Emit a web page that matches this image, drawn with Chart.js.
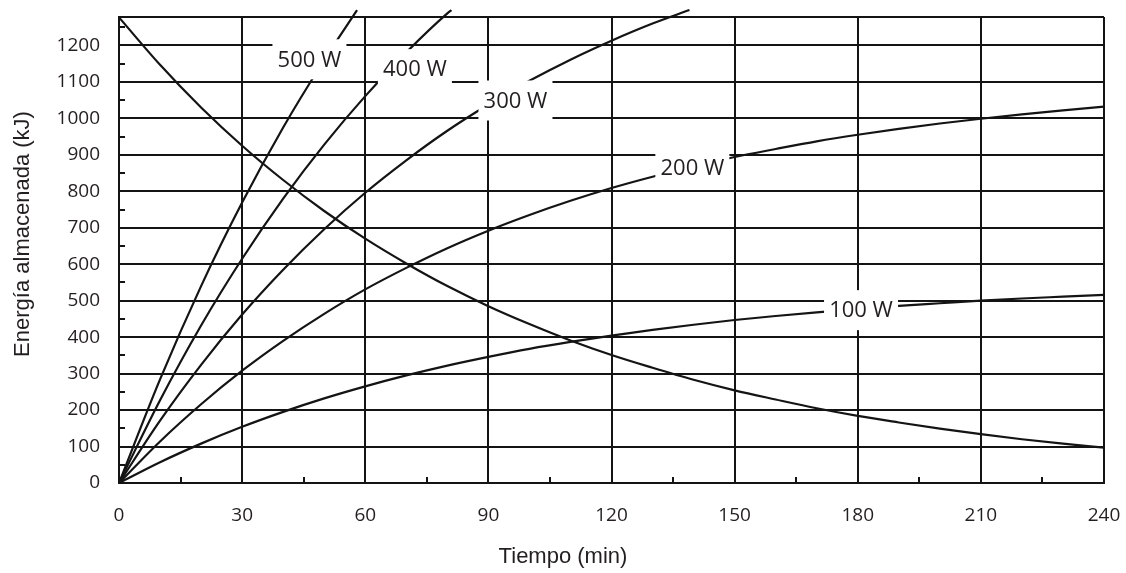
<!DOCTYPE html>
<html>
<head>
<meta charset="utf-8">
<script src="https://cdn.jsdelivr.net/npm/chart.js@4/dist/chart.umd.min.js"></script>
<style>
  html, body { margin: 0; padding: 0; background: #fff; }
</style>
</head>
<body>
<canvas id="chart" width="1126" height="573"></canvas>
<script>
// tick labels
const xTicks = [0, 30, 60, 90, 120, 150, 180, 210, 240];
const yTicks = [0, 100, 200, 300, 400, 500, 600, 700, 800, 900, 1000, 1100, 1200];

// minutes
const tiempo = [0, 10, 20, 30, 40, 50, 60, 70, 80, 90, 100, 110, 120, 130, 140, 150, 160, 170, 180, 190, 200, 210, 220, 230, 240];
const t300 = [0, 10, 20, 30, 40, 50, 60, 70, 80, 90, 100, 110, 120, 130, 139];
const t400 = [0, 10, 20, 30, 40, 50, 60, 70, 80, 81];
const t500 = [0, 10, 20, 30, 40, 50, 58];

// stored energy (kJ)
const descarga = [1277, 1147, 1030, 925, 831, 746, 670, 602, 540, 485, 436, 391, 351, 316, 283, 254, 229, 205, 184, 166, 149, 134, 120, 108, 97];
const e100 = [0, 57, 108, 154, 195, 232, 265, 295, 322, 346, 368, 387, 404, 420, 434, 447, 458, 468, 477, 486, 493, 500, 506, 511, 516];
const e200 = [0, 114, 216, 308, 390, 464, 531, 590, 644, 692, 735, 774, 809, 840, 868, 894, 916, 937, 955, 971, 986, 999, 1011, 1022, 1032];
const e300 = [0, 171, 324, 462, 585, 696, 796, 885, 966, 1038, 1103, 1161, 1213, 1260, 1297];
const e400 = [0, 227, 432, 615, 780, 928, 1061, 1181, 1288, 1297];
const e500 = [0, 284, 540, 769, 975, 1160, 1297];

const etiquetas = ['500 W', '400 W', '300 W', '200 W', '100 W'];

const INK = '#141414';
const TXT = '#231f20';

function pts(xs, ys) {
  return xs.map((t, i) => ({ x: t, y: ys[i] }));
}

function serie(xs, ys) {
  return {
    data: pts(xs, ys),
    borderColor: INK,
    borderWidth: 2.2,
    pointRadius: 0,
    cubicInterpolationMode: 'monotone',
    clip: false
  };
}

// chart.js pads the plot for tick labels, we want the plot edges fixed
function noPad(s) {
  s.paddingTop = 0;
  s.paddingRight = 0;
  s.paddingLeft = 0;
  s.paddingBottom = 0;
}

// minor ticks, labels with white boxes, axis titles
const extras = {
  id: 'extras',
  afterDatasetsDraw(chart, args, opts) {
    const { ctx, chartArea, scales: { x, y } } = chart;
    ctx.save();
    ctx.strokeStyle = INK;
    ctx.lineWidth = 2;
    ctx.beginPath();
    for (let v = 15; v < 240; v += 30) {
      const px = Math.round(x.getPixelForValue(v));
      ctx.moveTo(px, chartArea.bottom);
      ctx.lineTo(px, chartArea.bottom - 6);
    }
    for (let v = 50; v < y.max; v += 100) {
      const py = Math.round(y.getPixelForValue(v));
      ctx.moveTo(chartArea.left, py);
      ctx.lineTo(chartArea.left + 6, py);
    }
    ctx.stroke();

    ctx.font = '22px "Open Sans"';
    ctx.textAlign = 'center';
    ctx.textBaseline = 'middle';
    opts.pos.forEach((p, i) => {
      const cx = x.getPixelForValue(p[0]);
      const cy = y.getPixelForValue(p[1]);
      ctx.fillStyle = '#fff';
      ctx.fillRect(cx - 37, cy - 20, 74, 40);
      ctx.fillStyle = TXT;
      ctx.fillText(etiquetas[i], cx, cy + 1);
    });

    ctx.font = '22px "Liberation Sans"';
    ctx.fillStyle = TXT;
    ctx.fillText('Tiempo (min)', 563, 557);
    ctx.translate(23, 234);
    ctx.rotate(-Math.PI / 2);
    ctx.fillText('Energía almacenada (kJ)', 0, 0);
    ctx.restore();
  }
};

new Chart(document.getElementById('chart'), {
  type: 'line',
  data: {
    datasets: [
      serie(tiempo, descarga),
      serie(tiempo, e100),
      serie(tiempo, e200),
      serie(t300, e300),
      serie(t400, e400),
      serie(t500, e500)
    ]
  },
  options: {
    responsive: false,
    animation: false,
    layout: { padding: { top: 17, right: 22, left: 0, bottom: 0 } },
    plugins: {
      legend: { display: false },
      tooltip: { enabled: false },
      extras: {
        pos: [[46.4, 1162], [72.1, 1135], [96.6, 1049], [139.7, 865], [180.8, 474]]
      }
    },
    scales: {
      x: {
        type: 'linear',
        min: 0,
        max: 240,
        afterBuildTicks: s => { s.ticks = xTicks.map(v => ({ value: v })); },
        afterFit: s => { s.height = 90; noPad(s); },
        ticks: {
          color: TXT,
          font: { family: 'Open Sans', size: 19 },
          padding: 21,
          maxRotation: 0
        },
        grid: { color: INK, lineWidth: 2, drawTicks: false },
        border: { color: INK, width: 2 }
      },
      y: {
        type: 'linear',
        min: 0,
        max: 1278,
        afterBuildTicks: s => { s.ticks = yTicks.map(v => ({ value: v })).concat([{ value: 1278 }]); },
        afterFit: s => { s.width = 119; noPad(s); },
        ticks: {
          color: TXT,
          font: { family: 'Open Sans', size: 19 },
          padding: 19,
          callback: v => (v % 100 === 0 ? v : '')
        },
        grid: { color: INK, lineWidth: 2, drawTicks: false },
        border: { color: INK, width: 2 }
      }
    }
  },
  plugins: [extras]
});
</script>
</body>
</html>
